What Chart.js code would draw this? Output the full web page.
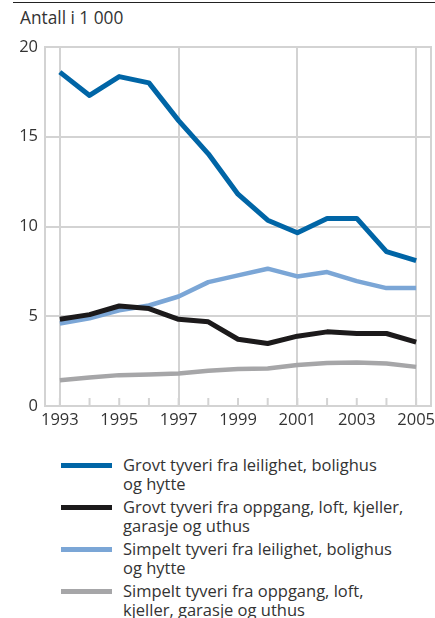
<!DOCTYPE html>
<html>
<head>
<meta charset="utf-8">
<script src="https://cdn.jsdelivr.net/npm/chart.js@4"></script>
<style>
  body { margin: 0; background: #fff; font-family: "Open Sans", sans-serif; color: #333; }
  #wrap { position: relative; width: 435px; height: 618px; }
  #topline { position: absolute; left: 13px; right: 0; top: 2px; height: 1px; background: #222; }
  #unit { position: absolute; left: 20px; top: 5px; font-size: 17.3px; line-height: 26px; }
  #chart { position: absolute; left: 0; top: 0; }
  .item { position: absolute; left: 0; width: 435px; }
  .sw { position: absolute; left: 61px; width: 51px; height: 5px; }
  .txt { position: absolute; left: 123px; font-size: 16.5px; line-height: 19px; white-space: nowrap; }
</style>
</head>
<body>
<div id="wrap">
  <div id="topline"></div>
  <div id="unit">Antall i 1 000</div>
  <canvas id="chart" width="435" height="440"></canvas>
  <div id="legend"></div>
</div>
<script>
// years on the x axis
const years = ["1993","1994","1995","1996","1997","1998","1999","2000","2001","2002","2003","2004","2005"];
const yTicks = [0, 5, 10, 15, 20];

// values (thousands)
const grovtBolig   = [18.6, 17.3, 18.35, 18.0, 15.9, 14.05, 11.8, 10.35, 9.65, 10.45, 10.45, 8.6, 8.1];
const grovtOppgang = [4.83, 5.09, 5.57, 5.43, 4.83, 4.69, 3.72, 3.48, 3.89, 4.13, 4.04, 4.04, 3.56];
const simpeltBolig = [4.6, 4.88, 5.33, 5.6, 6.1, 6.9, 7.28, 7.65, 7.22, 7.46, 6.96, 6.57, 6.57];
const simpeltOppgang = [1.44, 1.59, 1.72, 1.76, 1.81, 1.96, 2.06, 2.09, 2.28, 2.39, 2.43, 2.37, 2.18];

const seriesNames = [
  ["Grovt tyveri fra leilighet, bolighus", "og hytte"],
  ["Grovt tyveri fra oppgang, loft, kjeller,", "garasje og uthus"],
  ["Simpelt tyveri fra leilighet, bolighus", "og hytte"],
  ["Simpelt tyveri fra oppgang, loft,", "kjeller, garasje og uthus"]
];
const colors = ["#0065a6", "#1c1a1b", "#7ba6d6", "#a6a6a8"];
const widths = [5, 5, 4.5, 4.5];
const values = [grovtBolig, grovtOppgang, simpeltBolig, simpeltOppgang];

const gridColor = "#d3d3d3";

// border round the plot and small year ticks inside the bottom edge
const framePlugin = {
  id: "frame",
  beforeDatasetsDraw(chart) {
    const { ctx, chartArea: a, scales } = chart;
    ctx.save();
    ctx.strokeStyle = gridColor;
    ctx.lineWidth = 2;
    ctx.strokeRect(a.left, a.top, a.right - a.left, a.bottom - a.top);
    scales.x.ticks.forEach((t, i) => {
      const px = scales.x.getPixelForTick(i);
      ctx.beginPath();
      ctx.moveTo(px, a.bottom);
      ctx.lineTo(px, a.bottom - 8);
      ctx.stroke();
    });
    ctx.restore();
  }
};

const ctx = document.getElementById("chart").getContext("2d");
new Chart(ctx, {
  type: "line",
  data: {
    labels: years,
    datasets: values.map((v, i) => ({
      label: seriesNames[i].join(" "),
      data: v,
      borderColor: colors[i],
      borderWidth: widths[i],
      pointRadius: 0,
      tension: 0,
      borderJoinStyle: "round",
      fill: false
    }))
  },
  options: {
    responsive: false,
    animation: false,
    devicePixelRatio: 1,
    layout: { padding: { top: 47, right: 4, left: 0, bottom: 0 } },
    plugins: { legend: { display: false }, tooltip: { enabled: false } },
    scales: {
      x: {
        offset: true,
        grid: {
          offset: false,
          drawTicks: false,
          color: c => (c.index % 4 === 0 ? gridColor : "rgba(0,0,0,0)"),
          lineWidth: 2
        },
        border: { display: false },
        ticks: {
          autoSkip: false,
          maxRotation: 0,
          padding: 4,
          color: "#333",
          font: { family: "Open Sans", size: 16.5 },
          callback: (val, i) => (i % 2 === 0 ? years[i] : "")
        },
        afterFit: s => { s.height = 34; s.paddingLeft = 0; s.paddingRight = 0; }
      },
      y: {
        min: 0,
        max: 20,
        afterBuildTicks: s => { s.ticks = yTicks.map(v => ({ value: v })); },
        grid: { drawTicks: false, color: gridColor, lineWidth: 2 },
        border: { display: false },
        ticks: {
          padding: 7,
          color: "#333",
          font: { family: "Open Sans", size: 16.5 }
        },
        afterFit: s => { s.width = 45; s.paddingTop = 0; s.paddingBottom = 0; }
      }
    }
  },
  plugins: [framePlugin]
});

// legend below the chart
const legendTops = [465, 507, 549, 591];
const legend = document.getElementById("legend");
seriesNames.forEach((lines, i) => {
  const item = document.createElement("div");
  item.className = "item";
  item.style.top = (legendTops[i] - 10) + "px";
  const sw = document.createElement("div");
  sw.className = "sw";
  sw.style.background = colors[i];
  sw.style.top = "8px";
  const txt = document.createElement("div");
  txt.className = "txt";
  txt.innerHTML = lines.join("<br>");
  item.appendChild(sw);
  item.appendChild(txt);
  legend.appendChild(item);
});
</script>
</body>
</html>
